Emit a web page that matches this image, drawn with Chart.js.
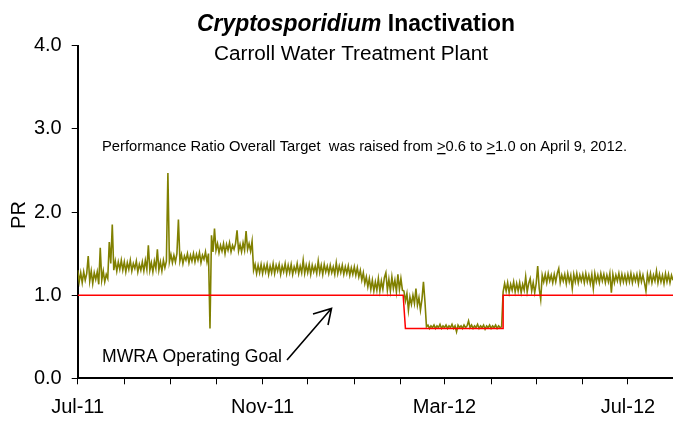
<!DOCTYPE html>
<html>
<head>
<meta charset="utf-8">
<script src="https://cdn.jsdelivr.net/npm/chart.js@4.4.1/dist/chart.umd.min.js"></script>
<style>
  html, body { margin: 0; padding: 0; background: #fff; }
  #wrap { width: 673px; height: 421px; }
</style>
</head>
<body>
<div id="wrap"><canvas id="prChart" width="673" height="421"></canvas></div>
<script>
// Daily PR readings, one array per month (day 0 = 1 Jul 2011)
const jul11 = [1.30, 1.16, 1.27, 1.15, 1.28, 1.18, 1.26, 1.47, 1.17, 1.29, 1.14, 1.27, 1.19, 1.28, 1.13, 1.57, 1.18, 1.29, 1.16, 1.25, 1.20, 1.64, 1.38, 1.85, 1.30, 1.41, 1.29, 1.40, 1.31, 1.42, 1.30];
const aug11 = [1.40, 1.28, 1.39, 1.31, 1.42, 1.29, 1.38, 1.32, 1.41, 1.28, 1.37, 1.30, 1.40, 1.29, 1.42, 1.31, 1.60, 1.30, 1.39, 1.28, 1.41, 1.32, 1.55, 1.30, 1.40, 1.29, 1.42, 1.33, 1.41, 2.47, 1.40];
const sep11 = [1.49, 1.39, 1.48, 1.40, 1.50, 1.91, 1.41, 1.49, 1.38, 1.47, 1.42, 1.50, 1.39, 1.48, 1.41, 1.50, 1.40, 1.49, 1.42, 1.51, 1.39, 1.48, 1.43, 1.52, 1.40, 1.50, 0.60, 1.72, 1.52, 1.80];
const oct11 = [1.54, 1.62, 1.51, 1.60, 1.53, 1.62, 1.50, 1.61, 1.54, 1.63, 1.52, 1.60, 1.55, 1.62, 1.78, 1.53, 1.61, 1.52, 1.63, 1.54, 1.77, 1.55, 1.62, 1.53, 1.65, 1.30, 1.37, 1.26, 1.36, 1.27, 1.37];
const nov11 = [1.26, 1.36, 1.28, 1.37, 1.25, 1.35, 1.27, 1.38, 1.26, 1.36, 1.29, 1.37, 1.25, 1.35, 1.28, 1.38, 1.26, 1.36, 1.27, 1.37, 1.25, 1.34, 1.28, 1.38, 1.26, 1.35, 1.27, 1.42, 1.26, 1.36];
const dec11 = [1.27, 1.37, 1.25, 1.36, 1.28, 1.35, 1.26, 1.41, 1.27, 1.36, 1.25, 1.37, 1.28, 1.35, 1.26, 1.36, 1.27, 1.34, 1.25, 1.39, 1.26, 1.35, 1.27, 1.36, 1.25, 1.34, 1.26, 1.35, 1.24, 1.33, 1.25];
const jan12 = [1.34, 1.24, 1.33, 1.22, 1.30, 1.18, 1.27, 1.14, 1.22, 1.10, 1.20, 1.07, 1.18, 1.05, 1.16, 1.06, 1.20, 1.05, 1.17, 1.07, 1.21, 1.27, 1.06, 1.19, 1.05, 1.22, 1.08, 1.18, 1.04, 1.25, 1.07];
const feb12 = [1.20, 1.06, 1.05, 0.93, 1.02, 0.82, 0.98, 0.89, 1.00, 0.90, 1.08, 0.88, 0.97, 0.82, 0.95, 1.16, 0.92, 0.62, 0.64, 0.60, 0.63, 0.61, 0.64, 0.60, 0.63, 0.61, 0.65, 0.60, 0.63];
const mar12 = [0.61, 0.64, 0.60, 0.63, 0.61, 0.65, 0.60, 0.63, 0.56, 0.64, 0.61, 0.63, 0.60, 0.64, 0.61, 0.63, 0.69, 0.61, 0.64, 0.60, 0.63, 0.61, 0.65, 0.60, 0.63, 0.61, 0.64, 0.59, 0.63, 0.61, 0.64];
const apr12 = [0.60, 0.63, 0.61, 0.64, 0.60, 0.63, 0.61, 0.62, 1.04, 1.14, 1.05, 1.15, 1.03, 1.13, 1.06, 1.16, 1.04, 1.14, 1.05, 1.15, 1.03, 1.13, 1.06, 1.22, 1.04, 1.14, 1.20, 1.05, 1.15, 1.03];
const may12 = [1.14, 1.35, 1.08, 0.95, 1.24, 1.16, 1.25, 1.15, 1.26, 1.17, 1.24, 1.15, 1.25, 1.16, 1.26, 1.32, 1.15, 1.24, 1.17, 1.25, 1.14, 1.26, 1.16, 1.24, 1.08, 1.25, 1.16, 1.26, 1.15, 1.24, 1.17];
const jun12 = [1.25, 1.15, 1.26, 1.16, 1.24, 1.14, 1.25, 1.08, 1.26, 1.16, 1.24, 1.15, 1.26, 1.17, 1.25, 1.15, 1.24, 1.16, 1.26, 1.03, 1.25, 1.15, 1.24, 1.17, 1.26, 1.15, 1.25, 1.16, 1.24, 1.15];
const jul12 = [1.25, 1.16, 1.26, 1.15, 1.24, 1.17, 1.25, 1.14, 1.26, 1.16, 1.24, 1.15, 1.05, 1.25, 1.16, 1.26, 1.15, 1.24, 1.17, 1.29, 1.15, 1.25, 1.16, 1.24, 1.14, 1.26, 1.16, 1.25, 1.15, 1.24, 1.18];

// MWRA operating goal (step line)
const goalDays = [0, 216.5, 218, 283, 283, 396];
const goalValues = [1.0, 1.0, 0.6, 0.6, 1.0, 1.0];

// Month start ticks (days since 1 Jul 2011) and their labels
const monthDays = [0, 31, 62, 92, 123, 153, 184, 215, 244, 275, 305, 336, 366];
const monthLabels = ['Jul-11', '', '', '', 'Nov-11', '', '', '', 'Mar-12', '', '', '', 'Jul-12'];

const yTicks = [0, 1, 2, 3, 4];

// Build the point list for the PR series
const allMonths = [jul11, aug11, sep11, oct11, nov11, dec11, jan12, feb12, mar12, apr12, may12, jun12, jul12];
const prPoints = [];
let day = 0;
allMonths.forEach(month => {
    month.forEach(v => {
        prPoints.push({ x: day, y: v });
        day++;
    });
});
const goalPoints = goalDays.map((d, i) => ({ x: d, y: goalValues[i] }));

const FONT = "'Liberation Sans', Arial, sans-serif";

// Draw text pieces squeezed to a given width
function drawFitted(ctx, parts, left, right, baseline) {
    let total = 0;
    parts.forEach(p => { ctx.font = p.font; total += ctx.measureText(p.text).width; });
    const s = (right - left) / total;
    ctx.save();
    ctx.translate(left, baseline);
    ctx.scale(s, 1);
    let x = 0;
    parts.forEach(p => {
        ctx.font = p.font;
        const w = ctx.measureText(p.text).width;
        ctx.fillText(p.text, x, 0);
        if (p.underline) {
            ctx.fillRect(x, 2, w, 1.3);
        }
        x += w;
    });
    ctx.restore();
}

const textPlugin = {
    id: 'textPlugin',
    afterDraw(chart) {
        const ctx = chart.ctx;
        ctx.save();
        ctx.fillStyle = '#000';
        ctx.textBaseline = 'alphabetic';
        ctx.textAlign = 'left';

        // titles
        drawFitted(ctx, [
            { text: 'Cryptosporidium', font: "italic bold 23px " + FONT },
            { text: ' Inactivation', font: "bold 23px " + FONT }
        ], 197, 515, 31);
        drawFitted(ctx, [{ text: 'Carroll Water Treatment Plant', font: "20px " + FONT }], 214, 488, 60);

        // note about the target change
        const nf = "15px 'Liberation Sans Narrow', " + FONT;
        drawFitted(ctx, [
            { text: 'Performance Ratio Overall Target  was raised from ', font: nf },
            { text: '>', font: nf, underline: true },
            { text: '0.6 to ', font: nf },
            { text: '>', font: nf, underline: true },
            { text: '1.0 on April 9, 2012.', font: nf }
        ], 102, 627, 151);

        // goal label and arrow
        drawFitted(ctx, [{ text: 'MWRA Operating Goal', font: "19px " + FONT }], 102, 282, 362);
        ctx.strokeStyle = '#000';
        ctx.lineWidth = 1.6;
        ctx.beginPath();
        ctx.moveTo(287, 360);
        ctx.lineTo(331, 309);
        ctx.moveTo(313, 314);
        ctx.lineTo(331.5, 308.5);
        ctx.lineTo(328, 325);
        ctx.stroke();

        // y axis title
        ctx.translate(25, 215);
        ctx.rotate(-Math.PI / 2);
        ctx.textAlign = 'center';
        ctx.font = "20px " + FONT;
        ctx.fillText('PR', 0, 0);
        ctx.restore();
    }
};

const ctx = document.getElementById('prChart').getContext('2d');
const prChart = new Chart(ctx, {
    type: 'line',
    data: {
        datasets: [
            {
                label: 'MWRA Operating Goal',
                data: goalPoints,
                borderColor: '#ff0000',
                borderWidth: 1.5,
                pointRadius: 0,
                tension: 0
            },
            {
                label: 'PR',
                data: prPoints,
                borderColor: '#808000',
                borderWidth: 1.6,
                pointRadius: 0,
                tension: 0
            }
        ]
    },
    options: {
        responsive: false,
        animation: false,
        devicePixelRatio: 1,
        layout: { padding: { top: 45.7, right: 0, bottom: 0, left: 0 } },
        plugins: {
            legend: { display: false },
            tooltip: { enabled: false },
            title: { display: false }
        },
        scales: {
            x: {
                type: 'linear',
                min: 0,
                max: 396,
                afterBuildTicks: axis => {
                    axis.ticks = monthDays.map(d => ({ value: d }));
                },
                afterFit: axis => { axis.height = 42.7; },
                ticks: {
                    autoSkip: false,
                    maxRotation: 0,
                    padding: 11,
                    color: '#000',
                    font: { family: FONT, size: 20 },
                    callback: value => monthLabels[monthDays.indexOf(value)] || ''
                },
                grid: {
                    drawOnChartArea: false,
                    drawTicks: true,
                    tickLength: 6,
                    color: '#000'
                },
                border: { display: true, color: '#000', width: 2 }
            },
            y: {
                min: 0,
                max: 4,
                afterBuildTicks: axis => {
                    axis.ticks = yTicks.map(v => ({ value: v }));
                },
                afterFit: axis => { axis.width = 77.7; },
                ticks: {
                    padding: 10,
                    color: '#000',
                    font: { family: FONT, size: 20 },
                    callback: value => value.toFixed(1)
                },
                grid: {
                    drawOnChartArea: false,
                    drawTicks: true,
                    tickLength: 6,
                    color: '#000'
                },
                border: { display: true, color: '#000', width: 2 }
            }
        }
    },
    plugins: [textPlugin]
});
</script>
</body>
</html>
